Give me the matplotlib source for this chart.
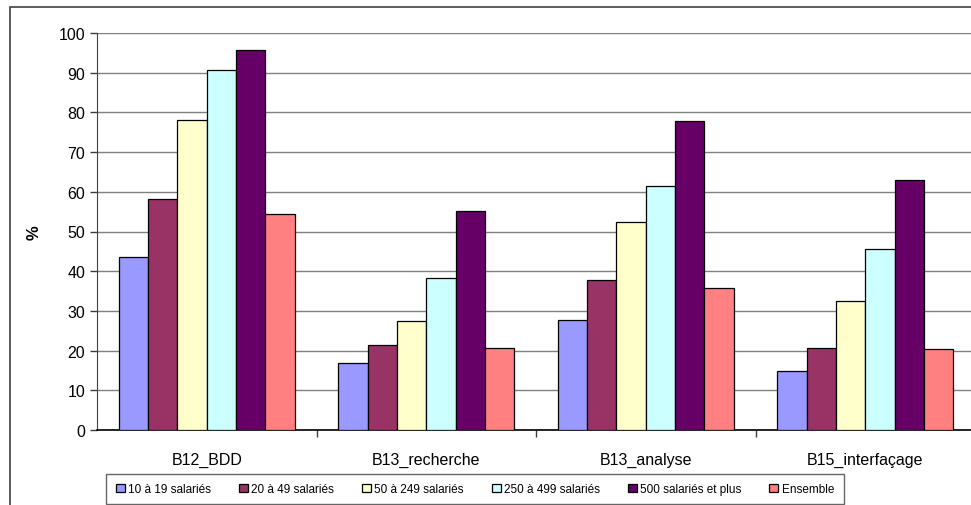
import numpy as np
import matplotlib.pyplot as plt
from matplotlib.patches import Rectangle

plt.rcParams['font.family'] = ['Liberation Sans', 'DejaVu Sans']

categories = ['B12_BDD', 'B13_recherche', 'B13_analyse', 'B15_interfaçage']
series = ['10 à 19 salariés', '20 à 49 salariés', '50 à 249 salariés',
          '250 à 499 salariés', '500 salariés et plus', 'Ensemble']
s_10_19 = [43.5, 17.0, 27.8, 14.9]
s_20_49 = [58.2, 21.5, 37.9, 20.7]
s_50_249 = [78.2, 27.4, 52.4, 32.5]
s_250_499 = [90.7, 38.4, 61.5, 45.6]
s_500_plus = [95.8, 55.2, 77.8, 63.0]
s_ensemble = [54.5, 20.6, 35.7, 20.5]
values = [s_10_19, s_20_49, s_50_249, s_250_499, s_500_plus, s_ensemble]
colors = ['#9999FF', '#993366', '#FFFFCC', '#CCFFFF', '#660066', '#FF8080']

fig = plt.figure(figsize=(9.71, 5.06), dpi=100)
W, H = 971, 506
# axes in pixel coords: left 97, right 975, top 34, bottom 431
ax = fig.add_axes([97 / W, 1 - 431 / H, (975 - 97) / W, (431 - 34) / H])

x = np.arange(len(categories))
bw = 0.8 / len(series)
for i, (vals, c, lab) in enumerate(zip(values, colors, series)):
    ax.bar(x - 0.4 + bw * (i + 0.5), vals, bw, color=c, edgecolor='black',
           linewidth=0.9, label=lab, zorder=3)

ax.set_xlim(-0.5, 3.5)
ax.set_ylim(0, 100)
ax.set_yticks(range(0, 101, 10))
ax.yaxis.grid(True, color='#808080', linewidth=1, zorder=0)
ax.set_xticks(x)
ax.set_xticklabels(categories, fontsize=11.5)
ax.set_xticks(np.arange(0.5, 3.5, 1), minor=True)
ax.tick_params(axis='x', which='major', length=0, pad=16)
ax.tick_params(axis='x', which='minor', length=5, width=1, color='#404040')
ax.tick_params(axis='y', labelsize=11.5, length=5, width=1, color='#404040')
for s in ['top', 'right']:
    ax.spines[s].set_visible(False)
ax.spines['left'].set_color('#404040')
ax.spines['bottom'].set_color('black')
ax.spines['bottom'].set_linewidth(1.2)
ax.set_ylabel('%', fontsize=12, fontweight='bold', labelpad=12)

# chart border
fig.patches.append(Rectangle((10 / W, -0.1), 1.2, 1 - 8 / H + 0.1,
                             transform=fig.transFigure, fill=False,
                             edgecolor='#404040', linewidth=1.2, clip_on=False))

leg = fig.legend(loc='center', bbox_to_anchor=(475 / W, 1 - 490 / H),
                 ncol=6, fontsize=8.5, frameon=True, fancybox=False,
                 edgecolor='#404040', handlelength=0.75, handleheight=0.75,
                 handletextpad=0.3, columnspacing=2.35, borderpad=0.8)
leg.get_frame().set_linewidth(1)

fig.savefig('out.png', dpi=100)
